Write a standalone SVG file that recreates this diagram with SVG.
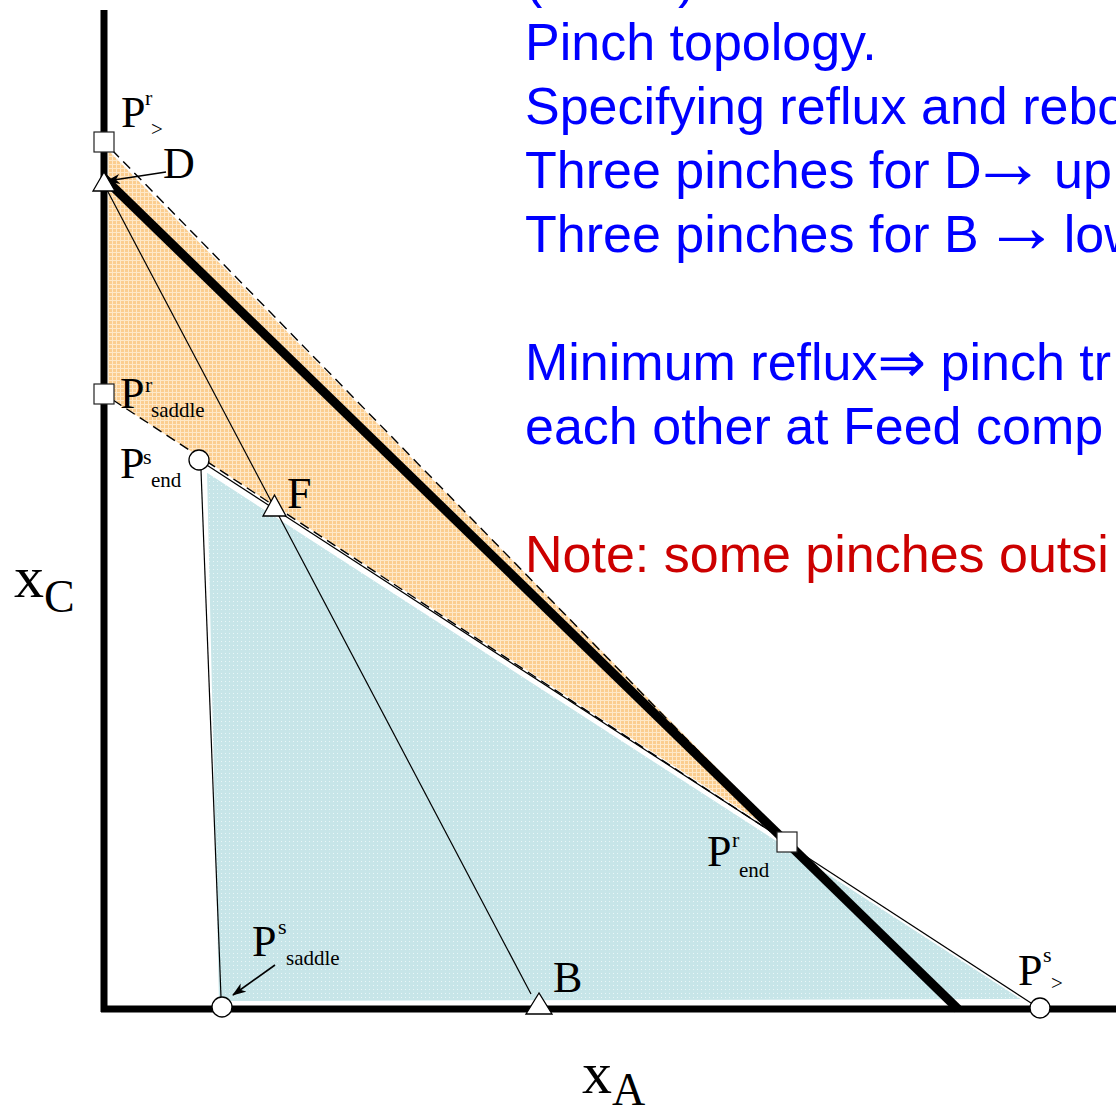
<svg xmlns="http://www.w3.org/2000/svg" width="1116" height="1107" viewBox="0 0 1116 1107">
<style>
.lbl{font-family:"Liberation Serif","Times New Roman",serif;font-size:44px;fill:#000}
.sup{font-family:"Liberation Serif","Times New Roman",serif;font-size:22px;fill:#000}
.sub{font-family:"Liberation Serif","Times New Roman",serif;font-size:21px;fill:#000}
.ax{font-family:"Liberation Serif","Times New Roman",serif;fill:#000}
.txt{font-family:"Liberation Sans",Arial,sans-serif;font-size:52px;fill:#0000ff}
.arr{font-family:"Liberation Sans",Arial,sans-serif;font-size:76px}
.darr{font-family:"DejaVu Sans",sans-serif;font-size:58px}
.red{fill:#cc0000}
.thin{stroke:#000;stroke-width:1.2;fill:none}
.dash{stroke:#000;stroke-width:1.4;fill:none;stroke-dasharray:10,6}
.sq{fill:#fff;stroke:#222;stroke-width:1.2}
.circ{fill:#fff;stroke:#000;stroke-width:1.3}
.tri{fill:#fff;stroke:#000;stroke-width:1.3}
</style>
<defs>
<pattern id="po" width="4" height="4" patternUnits="userSpaceOnUse">
<rect width="4" height="4" fill="#fbcd8f"/>
<path d="M0 0.5H4M0.5 0V4" stroke="#fee8c8" stroke-width="1"/>
</pattern>
<pattern id="pb" width="4" height="4" patternUnits="userSpaceOnUse">
<rect width="4" height="4" fill="#c7e5e8"/>
<rect x="1" y="1" width="1" height="1" fill="#e9f6f7"/>
</pattern>
<marker id="ah" viewBox="0 0 14 10" refX="13" refY="5" markerWidth="14" markerHeight="10" markerUnits="userSpaceOnUse" orient="auto">
<path d="M0,0 L14,5 L0,10 L4,5 z" fill="#000"/>
</marker>
</defs>

<g id="regions">
<polygon id="rectifying-region" points="108,150 789,841 108,397" fill="url(#po)"/>
<polygon id="stripping-region" points="206,471 1024,1000 218,1002" fill="url(#pb)" stroke="#fff" stroke-width="2"/>
</g>

<g id="connectors">
<line class="thin" x1="107" y1="190" x2="531" y2="994"/>
<line class="thin" x1="201" y1="470" x2="221" y2="997"/>
<line class="thin" x1="199" y1="460" x2="787" y2="842"/>
<line class="thin" x1="793" y1="848" x2="1031" y2="1003"/>
<line class="dash" x1="112" y1="150" x2="787" y2="842"/>
<line class="dash" x1="113" y1="400" x2="787" y2="842"/>
<line x1="104" y1="10" x2="104" y2="1012" stroke="#000" stroke-width="7"/>
<line x1="101" y1="1009" x2="1116" y2="1009" stroke="#000" stroke-width="7"/>
<line x1="104" y1="178" x2="958" y2="1009" stroke="#000" stroke-width="9"/>
<line x1="166" y1="172" x2="107" y2="181" stroke="#000" stroke-width="1.6" marker-end="url(#ah)"/>
<line x1="275" y1="965" x2="233" y2="995" stroke="#000" stroke-width="1.6" marker-end="url(#ah)"/>
</g>

<g id="node-Pr-gt">
<rect class="sq" x="94" y="132" width="20" height="20"/>
<text class="lbl" x="121" y="127">P</text>
<text class="sup" x="145" y="105">r</text>
<text class="sub" x="151" y="136">&gt;</text>
</g>
<g id="node-D">
<polygon class="tri" points="104,172 93,191 115,191"/>
<text class="lbl" x="163" y="178" font-size="46">D</text>
</g>
<g id="node-Pr-saddle">
<rect class="sq" x="94" y="384" width="20" height="20"/>
<text class="lbl" x="120" y="408">P</text>
<text class="sup" x="145" y="392">r</text>
<text class="sub" x="151" y="417">saddle</text>
</g>
<g id="node-Ps-end">
<circle class="circ" cx="199" cy="460" r="10"/>
<text class="lbl" x="120" y="478">P</text>
<text class="sup" x="143" y="464">s</text>
<text class="sub" x="151" y="487">end</text>
</g>
<g id="node-F">
<polygon class="tri" points="274.5,495 263,516 286,516"/>
<text class="lbl" x="287" y="508" font-size="45">F</text>
</g>
<g id="node-Pr-end">
<rect class="sq" x="777" y="832" width="20" height="20"/>
<text class="lbl" x="707" y="866">P</text>
<text class="sup" x="732" y="847">r</text>
<text class="sub" x="739" y="877">end</text>
</g>
<g id="node-Ps-saddle">
<circle class="circ" cx="222" cy="1007" r="10"/>
<text class="lbl" x="252" y="956">P</text>
<text class="sup" x="278" y="934">s</text>
<text class="sub" x="286" y="965">saddle</text>
</g>
<g id="node-B">
<polygon class="tri" points="539,993 526,1014 552,1014"/>
<text class="lbl" x="553" y="992" font-size="45">B</text>
</g>
<g id="node-Ps-gt">
<circle class="circ" cx="1040" cy="1008" r="10"/>
<text class="lbl" x="1018" y="985">P</text>
<text class="sup" x="1043" y="962">s</text>
<text class="sub" x="1051" y="990">&gt;</text>
</g>

<g id="axis-labels">
<text class="ax" x="14" y="597" font-size="60">x</text>
<text class="ax" x="44" y="612" font-size="46">C</text>
<text class="ax" x="582" y="1093" font-size="60">x</text>
<text class="ax" x="612" y="1105" font-size="46">A</text>
</g>

<g id="notes">
<text class="txt" x="525" y="-3">(</text>
<text class="txt" x="678" y="-3">)</text>
<text class="txt" x="525" y="60">Pinch topology.</text>
<text class="txt" x="525" y="124">Specifying reflux and rebo</text>
<text class="txt" x="525" y="188">Three pinches for D<tspan class="arr" dx="-12">→</tspan><tspan dx="-6"> up</tspan></text>
<text class="txt" x="525" y="252">Three pinches for B <tspan class="arr" dx="-10">→</tspan><tspan dx="-10"> low</tspan></text>
<text class="txt" x="525" y="380">Minimum reflux<tspan class="darr" dy="2">⇒</tspan><tspan dy="-2"> pinch tr</tspan></text>
<text class="txt" x="525" y="444">each other at Feed comp</text>
<text class="txt red" x="525" y="572">Note: some pinches outsi</text>
</g>
</svg>
